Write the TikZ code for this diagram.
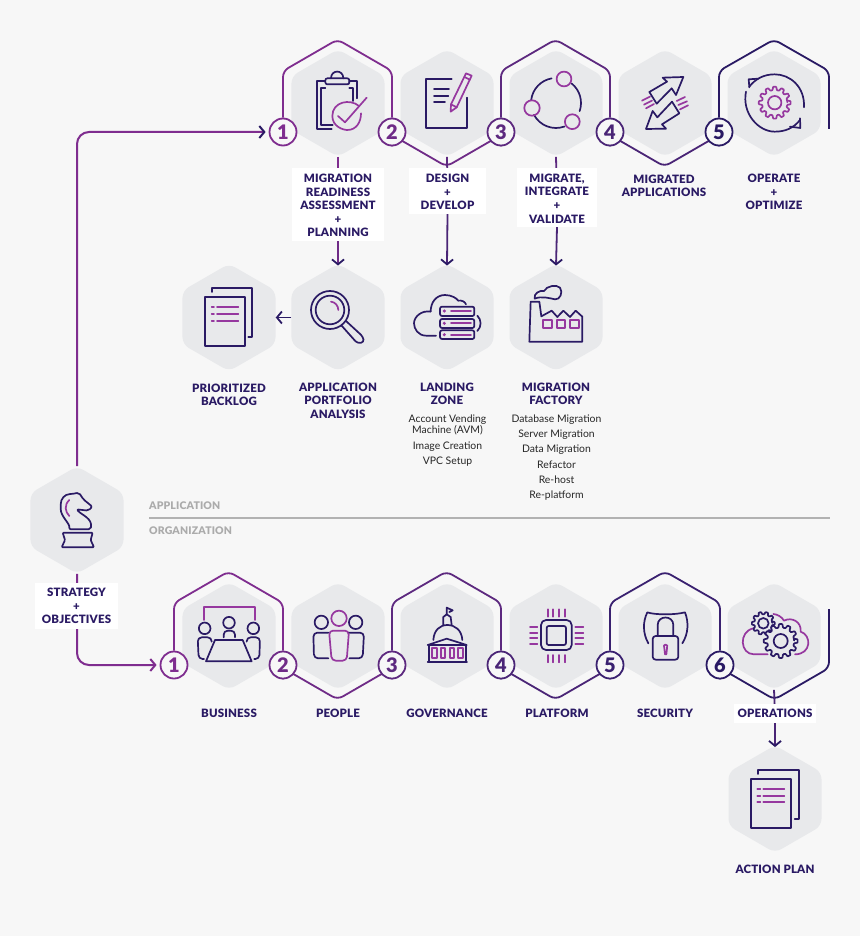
\documentclass[tikz,border=0pt]{standalone}
\usepackage{fontspec}
\setmainfont{Lato}
\newfontfamily\labfont[LetterSpace=1.5]{Lato Black}
\newfontfamily\bodyfont{Lato}
\usetikzlibrary{arrows.meta,shapes.geometric,backgrounds,calc}
\definecolor{pagebg}{HTML}{F7F7F7}
\definecolor{hexfill}{HTML}{E8E9EB}
\definecolor{navy}{HTML}{2A1A64}
\definecolor{acc}{HTML}{96389F}
\definecolor{pa}{HTML}{7F2D8F}
\definecolor{pb}{HTML}{6F2B87}
\definecolor{pc}{HTML}{5D297F}
\definecolor{pd}{HTML}{4A2576}
\definecolor{pe}{HTML}{3A2170}
\definecolor{greylab}{HTML}{ABABAB}
\newcommand{\lowerln}{\rule{0pt}{10.4pt}}
\tikzset{
  hexnode/.style={regular polygon,regular polygon sides=6,shape border rotate=30,fill=hexfill,draw=none,
    minimum size=107.4pt,inner sep=0pt,rounded corners=7pt},
  numnode/.style={circle,minimum size=27pt,inner sep=0pt,line width=1.8pt,fill=pagebg,draw=#1,text=#1,
    font=\labfont\fontsize{20}{20}\selectfont},
  lab/.style={align=center,text=navy,inner sep=0pt,yshift=-0.7pt,font=\labfont\fontsize{11.5}{13.6}\selectfont},
  boxlab/.style={lab,yshift=0.7pt,fill=white,minimum width=#1},
  body/.style={align=center,text=black!85,inner sep=0pt,yshift=-0.7pt,font=\bodyfont\fontsize{10.4}{15.3}\selectfont},
  glab/.style={anchor=west,text=greylab,inner sep=0pt,font=\labfont\fontsize{10.5}{12}\selectfont},
  seg/.style={line width=1.8pt,draw=#1,rounded corners=6pt},
  conn/.style={line width=1.8pt,draw=#1},
  arr/.style={line width=1.8pt,draw=#1,-{Straight Barb[length=5pt,width=12pt,color=navy]}},
  icn/.style={line width=1.7pt,draw=navy,line join=round,line cap=round},
  ica/.style={line width=1.7pt,draw=acc,line join=round,line cap=round},
  zoomed/.style 2 args={shift={(#1,#2)},x=0.33333pt,y=-0.33333pt}
}
\newcommand{\geartooth}[6]{% style, cx, cy, rin, rout, n
  \pgfmathsetmacro{\gst}{360/#6}
  \draw[#1,rounded corners=0.5pt] ([shift={(0:#4pt)}]#2,#3)
    \foreach \k [evaluate=\k as \a using \k*\gst] in {1,...,#6}{
      -- ([shift={(\a-0.34*\gst:#4pt)}]#2,#3)
      -- ([shift={(\a-0.18*\gst:#5pt)}]#2,#3)
      -- ([shift={(\a+0.18*\gst:#5pt)}]#2,#3)
      -- ([shift={(\a+0.34*\gst:#4pt)}]#2,#3)
    } -- cycle;
}
\begin{document}
\begin{tikzpicture}[x=1pt,y=-1pt]
\useasboundingbox (0,0) rectangle (860,936);
% hexagons
\node[hexnode] (h1) at (338,103) {};
\node[hexnode] (h2) at (447,103) {};
\node[hexnode] (h3) at (556,103) {};
\node[hexnode] (h4) at (665,103) {};
\node[hexnode] (h5) at (774,103) {};
\node[hexnode] (h6) at (229,317.5) {};
\node[hexnode] (h7) at (338,317.5) {};
\node[hexnode] (h8) at (447,317.5) {};
\node[hexnode] (h9) at (556,317.5) {};
\node[hexnode] (h0) at (77,520) {};
\node[hexnode] (b1) at (229,636) {};
\node[hexnode] (b2) at (338,636) {};
\node[hexnode] (b3) at (447,636) {};
\node[hexnode] (b4) at (556,636) {};
\node[hexnode] (b5) at (665,636) {};
\node[hexnode] (b6) at (774,636) {};
\node[hexnode] (b7) at (775,799) {};
% number circles
\node[numnode=pa] (c1) at (283,132) {1};
\node[numnode=pb] (c2) at (392,132) {2};
\node[numnode=pc] (c3) at (501,132) {3};
\node[numnode=pd] (c4) at (610,132) {4};
\node[numnode=navy] (c5) at (719,132) {5};
\node[numnode=pa] (d1) at (174,665) {1};
\node[numnode=pb] (d2) at (283,665) {2};
\node[numnode=pc] (d3) at (392,665) {3};
\node[numnode=pd] (d4) at (501,665) {4};
\node[numnode=pe] (d5) at (610,665) {5};
\node[numnode=navy] (d6) at (720,665) {6};
\coordinate (endA) at (829,129);
\coordinate (endB) at (829,609);
% labels
\node[boxlab=92pt,minimum height=73pt] (l1) at (338,204.5) {\lowerln MIGRATION\\READINESS\\ASSESSMENT\\+\\PLANNING};
\node[boxlab=77pt,minimum height=46pt] (l2) at (447.5,191) {\lowerln DESIGN\\+\\DEVELOP};
\node[boxlab=80pt,minimum height=59pt] (l3) at (557,197.5) {\lowerln MIGRATE,\\INTEGRATE\\+\\VALIDATE};
\node[lab] (l4) at (664,185) {MIGRATED\\APPLICATIONS};
\node[lab] (l5) at (774,191.5) {OPERATE\\+\\OPTIMIZE};
\node[lab] (l6) at (229,394) {PRIORITIZED\\BACKLOG};
\node[lab] (l7) at (338,400) {APPLICATION\\PORTFOLIO\\ANALYSIS};
\node[lab] (l8) at (447,393) {LANDING\\ZONE};
\node[lab] (l9) at (556,393) {MIGRATION\\FACTORY};
\node[body,font=\bodyfont\fontsize{10.4}{11.3}\selectfont] (t1) at (447.5,424.5) {Account Vending\\Machine (AVM)};
\node[body] (t2) at (447.5,445.5) {Image Creation};
\node[body] (t3) at (447.5,461) {VPC Setup};
\node[body] (t4) at (556.5,457) {Database Migration\\Server Migration\\Data Migration\\Refactor\\Re-host\\Re-platform};
\node[boxlab=83pt,minimum height=46pt] (l0) at (76.5,606) {STRATEGY\\+\\OBJECTIVES};
\node[lab] (m1) at (229,713) {BUSINESS};
\node[lab] (m2) at (338,713) {PEOPLE};
\node[lab] (m3) at (447,713) {GOVERNANCE};
\node[lab] (m4) at (557,713) {PLATFORM};
\node[lab] (m5) at (665,713) {SECURITY};
\node[boxlab=82pt,minimum height=19pt] (m6) at (775,713.5) {OPERATIONS};
\node[lab] (m7) at (775,869) {ACTION PLAN};
\node[glab] (ga) at (149,506) {APPLICATION};
\node[glab] (gb) at (149,531) {ORGANIZATION};
\coordinate (barL) at (149,517.5);
\coordinate (barR) at (830,517.5);
% page, outlines, connectors below everything
\begin{scope}[on background layer]
\fill[pagebg] (0,0) rectangle (860,936);
\draw[seg=pa] (c1) -- ++(0,-61) -- ++(54.5,-31.5) -- ++(54.5,31.5) -- (c2);
\draw[seg=pb] (c2) -- ++(0,3) -- ++(54.5,31.5) -- ++(54.5,-31.5) -- (c3);
\draw[seg=pc] (c3) -- ++(0,-61) -- ++(54.5,-31.5) -- ++(54.5,31.5) -- (c4);
\draw[seg=pd] (c4) -- ++(0,3) -- ++(54.5,31.5) -- ++(54.5,-31.5) -- (c5);
\draw[seg=navy] (c5) -- ++(0,-61) -- ++(55,-31.5) -- ++(55,31.5) -- (endA);
\draw[seg=pa] (d1) -- ++(0,-62) -- ++(54.5,-31.5) -- ++(54.5,31.5) -- (d2);
\draw[seg=pb] (d2) -- ++(0,3) -- ++(54.5,31.5) -- ++(54.5,-31.5) -- (d3);
\draw[seg=pc] (d3) -- ++(0,-62) -- ++(54.5,-31.5) -- ++(54.5,31.5) -- (d4);
\draw[seg=pd] (d4) -- ++(0,3) -- ++(54.5,31.5) -- ++(54.5,-31.5) -- (d5);
\draw[seg=pe] (d5) -- ++(0,-62) -- ++(55,-31.5) -- ++(55,31.5) -- (d6);
\draw[seg=navy] (d6) -- ++(0,3) -- ++(54.5,31.5) -- ++(54.5,-31.5) -- (endB);
\draw[conn=pa] (h1.south) -- (l1);
\draw[conn=pc] (h2.south) -- (l2);
\draw[conn=pc] (h3.south) -- (l3);
\draw[conn=pd] (b6.south) -- (m6);
\end{scope}
\draw[line width=2pt,draw=black!30] (barL) -- (barR);
% arrows
\begin{scope}[on background layer]
\draw[line width=2pt,draw=pa,rounded corners=12pt,-{Straight Barb[length=5pt,width=12pt,color=navy]},shorten >=3pt] (h0.north) |- (c1.west);
\draw[line width=2pt,draw=pa,rounded corners=12pt,-{Straight Barb[length=5pt,width=12pt,color=pa]},shorten >=3pt] (h0.south) |- (d1.west);
\end{scope}
\draw[arr=pb] (l1.south) -- ([yshift=-2pt]h7.north);
\draw[arr=pd] (l2.south) -- ([yshift=-2pt]h8.north);
\draw[arr=pd] (l3.south) -- ([yshift=-2pt]h9.north);
\draw[arr=navy] (h7.west) -- (h6.east);
\draw[arr=pd] (m6.south) -- ([yshift=-2pt]b7.north);

% ---- icons ----
% clipboard
\begin{scope}[zoomed={260}{30}]
\draw[icn] (195,153) -- (170,153) -- (170,297) -- (215,297);
\draw[icn] (268,153) -- (292,153) -- (292,205);
\draw[icn] (196,175) -- (183,175) -- (183,285) -- (218,285);
\draw[icn] (268,175) -- (278,175) -- (278,213);
\draw[icn,rounded corners=2pt] (196,145) rectangle (268,163);
\draw[icn] (213,145) .. controls (213,118) and (250,118) .. (250,145);
\draw[ica] (297,228) .. controls (270,205) and (217,215) .. (217,258) .. controls (217,290) and (250,300) .. (262,300) .. controls (290,300) and (303,275) .. (303,250);
\draw[ica] (234,258) -- (255,277) -- (320,203);
% document with pencil
\draw[icn] (575,148) -- (499,148) -- (499,293) -- (620,293) -- (620,203);
\draw[icn] (522,178) -- (567,178);
\draw[icn] (522,197) -- (565,197);
\draw[icn] (522,216) -- (555,216);
\draw[ica] (572,245) -- (573,223) -- (618,130) -- (635,137) -- (590,232) -- cycle;
\draw[ica] (613,141) -- (630,149);
\draw[ica] (573,223) -- (590,232);
\end{scope}
% three circles
\draw[icn] (556,103) ++(100:25pt) arc[start angle=100,end angle=173,radius=25pt];
\draw[icn] (556,103) ++(51:25pt) arc[start angle=51,end angle=-19,radius=25pt];
\draw[icn] (556,103) ++(-70:25pt) arc[start angle=-70,end angle=-152,radius=25pt];
\draw[ica] (532,108) circle[radius=7.7pt];
\draw[ica] (564,79) circle[radius=7.4pt];
\draw[ica] (572.3,121.7) circle[radius=7.4pt];
% exchanging arrows
\begin{scope}[zoomed={540}{30}]
\draw[icn] (430,141) -- (408,195) -- (395,175) -- (350,221) -- (328,186) -- (381,155) -- (368,143) -- cycle;
\draw[icn] (318,297) -- (338,243) -- (352,262) -- (396,215) -- (418,250) -- (366,283) -- (378,296) -- cycle;
\draw[ica] (306,212) -- (330,200);
\draw[ica] (312,224) -- (336,212);
\draw[ica] (318,235) -- (342,222);
\draw[ica] (410,213) -- (435,201);
\draw[ica] (415,225) -- (441,214);
\draw[ica] (420,238) -- (444,226);
% circular arrows
\draw[icn] (792,232) .. controls (795,170) and (750,133) .. (704,133) .. controls (670,133) and (645,148) .. (628,170);
\draw[icn] (655,146) -- (626,148) -- (628,172);
\draw[icn] (618,185) .. controls (605,250) and (655,305) .. (704,305) .. controls (735,305) and (760,295) .. (780,270);
\draw[icn] (750,290) -- (781,294) -- (780,265);
\end{scope}
\geartooth{ica}{774.7}{102.7}{12.7}{16}{12}
\draw[ica] (774.7,102.7) circle[radius=6.7pt];
% backlog
\begin{scope}[zoomed={170}{255}]
\draw[icn] (104,125) rectangle (224,273);
\draw[icn] (126,111) -- (126,100) -- (247,100) -- (247,247) -- (235,247);
\foreach \yy in {156,177,197}{
  \draw[ica] (125,\yy) -- (132,\yy);
  \draw[ica] (141,\yy) -- (205,\yy);
}
% magnifier
\draw[icn] (480,165) circle[radius=19pt];
\draw[icn] (480,165) circle[radius=14.3pt];
\draw[ica] (483,140) .. controls (495,141) and (505,152) .. (505,165);
\draw[icn,rounded corners=3pt] (514,211) -- (562,265) -- (582,262) -- (579,245) -- (528,198);
\end{scope}
% landing zone
\begin{scope}[zoomed={400}{255}]
\draw[icn] (108,242) -- (78,242) .. controls (55,242) and (42,222) .. (42,205) .. controls (42,185) and (65,165) .. (92,170) .. controls (92,140) and (110,120) .. (135,120) .. controls (155,120) and (170,130) .. (175,137) .. controls (185,135) and (195,140) .. (198,148);
\foreach \yy/\zz in {155/183,192/219,226/252}{
  \draw[icn,rounded corners=2pt] (120,\yy) rectangle (223,\zz);
}
\foreach \yy in {168,205,239}{
  \fill[acc] (133,\yy) circle[radius=1.7pt];
  \draw[ica] (153,\yy) -- (213,\yy);
}
\draw[icn] (232,182) .. controls (245,195) and (245,215) .. (232,228);
% factory
\draw[icn] (388,260) -- (392,140) -- (418,140) -- (424,184) -- (455,167) -- (472,186) -- (490,167) -- (510,186) -- (527,167) -- (547,185) -- (547,260) -- cycle;
\draw[ica] (430,195) rectangle (456,220);
\draw[ica] (470,195) rectangle (496,220);
\draw[ica] (511,195) rectangle (537,220);
\draw[icn] (404,131) .. controls (400,115) and (420,105) .. (432,108) .. controls (440,92) and (470,88) .. (480,98) .. controls (490,112) and (480,135) .. (465,133) .. controls (450,130) and (425,122) .. (404,131);
\end{scope}
% knight
\begin{scope}[zoomed={20}{460}]
\draw[icn,rounded corners=2pt] (147,208) .. controls (150,190) and (122,170) .. (122,140) .. controls (122,115) and (135,103) .. (155,102) -- (177,98) -- (190,118) -- (217,140) -- (205,152) -- (170,148) .. controls (185,165) and (218,175) .. (212,208) -- cycle;
\draw[icn,rounded corners=1pt] (128,218) -- (218,218) -- (212,240) -- (222,262) -- (125,262) -- (135,240) -- cycle;
\draw[ica] (148,120) .. controls (132,135) and (135,155) .. (148,168);
% meeting
\draw[ica] (552,480) -- (552,442) -- (704,442) -- (704,480);
\draw[icn] (554,505) circle[radius=5.8pt];
\draw[icn] (627,488) circle[radius=5.8pt];
\draw[icn] (700,505) circle[radius=5.8pt];
\draw[icn] (585,540) -- (668,540) -- (695,604) -- (558,604) -- cycle;
\draw[icn,rounded corners=4pt] (552,597) -- (536,597) -- (533,532) -- (575,532) -- (575,545);
\draw[icn,rounded corners=4pt] (611,532) -- (611,512) -- (645,512) -- (645,532);
\draw[icn,rounded corners=4pt] (680,545) -- (680,532) -- (720,532) -- (718,597) -- (703,597);
\end{scope}
% people
\begin{scope}[zoomed={280}{565}]
\draw[icn] (124,172) circle[radius=6.7pt];
\draw[icn] (227,172) circle[radius=6.7pt];
\draw[ica] (177,160) circle[radius=7.7pt];
\draw[ica,rounded corners=4pt] (155,287) -- (147,197) -- (207,197) -- (200,287) -- cycle;
\draw[icn,rounded corners=4pt] (145,203) -- (100,203) -- (102,280) -- (145,280);
\draw[icn,rounded corners=4pt] (208,203) -- (252,203) -- (248,280) -- (208,280);
% governance
\draw[icn] (443,240) -- (500,221) -- (560,240) -- cycle;
\draw[icn] (447,240) -- (447,290);
\draw[icn] (557,240) -- (557,290);
\draw[icn] (443,290) -- (561,290);
\foreach \xx in {457,483,509,535}{\draw[ica] (\xx,250) rectangle ++(13,28);}
\draw[icn] (460,225) .. controls (462,195) and (480,180) .. (502,180) .. controls (525,180) and (545,195) .. (547,225);
\draw[icn] (490,180) -- (490,156) -- (500,148) -- (512,156) -- (515,180);
\draw[icn] (500,148) -- (500,128) -- (518,136) -- (508,141);
% chip
\draw[icn,rounded corners=5pt] (783,165) rectangle (875,255);
\draw[icn,rounded corners=2pt] (800,183) rectangle (858,240);
\foreach \xx in {803,820,838,856}{
  \draw[ica] (\xx,133) -- (\xx,155);
  \draw[ica] (\xx,270) -- (\xx,292);
}
\foreach \yy in {186,203,220,238}{
  \draw[ica] (750,\yy) -- (772,\yy);
  \draw[ica] (886,\yy) -- (910,\yy);
}
\end{scope}
% security and operations
\begin{scope}[zoomed={570}{565}]
\draw[icn] (235,235) .. controls (218,205) and (218,170) .. (232,142) .. controls (255,150) and (315,150) .. (345,142) .. controls (356,170) and (356,205) .. (337,235);
\draw[icn,rounded corners=3pt] (248,213) rectangle (325,284);
\draw[icn] (263,213) -- (263,180) .. controls (263,150) and (310,150) .. (310,180) -- (310,213);
\draw[ica] (283,250) .. controls (275,235) and (298,235) .. (291,250) -- (289,268) -- (285,268) -- cycle;
% cloud
\draw[ica] (593,268) -- (552,268) .. controls (510,268) and (505,200) .. (550,190);
\draw[ica] (610,147) .. controls (622,148) and (635,155) .. (642,167) .. controls (665,155) and (695,170) .. (692,200) .. controls (725,210) and (725,268) .. (675,268);
\end{scope}
\geartooth{icn}{763.3}{623.3}{9}{11.5}{10}
\draw[icn] (763.3,623.3) circle[radius=5.3pt];
\geartooth{icn,fill=hexfill}{780.7}{641}{13.5}{17}{12}
\draw[icn] (780.7,641) circle[radius=7pt];
% action plan
\begin{scope}[zoomed={700}{720}]
\draw[icn] (152,177) rectangle (274,324);
\draw[icn] (175,162) -- (175,151) -- (296,151) -- (296,297) -- (284,297);
\foreach \yy in {206,227,247}{
  \draw[ica] (172,\yy) -- (181,\yy);
  \draw[ica] (190,\yy) -- (253,\yy);
}
\end{scope}
\end{tikzpicture}
\end{document}
